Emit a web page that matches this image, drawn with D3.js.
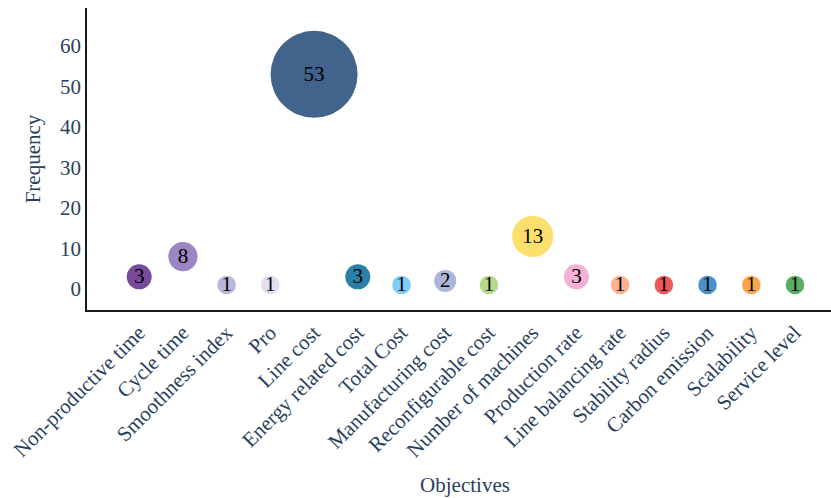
<!DOCTYPE html>
<html>
<head>
<meta charset="utf-8">
<script src="https://cdn.jsdelivr.net/npm/d3@7"></script>
<style>
  html, body { margin: 0; padding: 0; background: #fff; }
  svg { display: block; }
  text { font-family: "Liberation Serif", "Times New Roman", serif; }
</style>
</head>
<body>
<svg id="chart" width="831" height="498"></svg>
<script>
// ---- data ----
const categories = [
  "Non-productive time", "Cycle time", "Smoothness index", "Pro", "Line cost",
  "Energy related cost", "Total Cost", "Manufacturing cost", "Reconfigurable cost",
  "Number of machines", "Production rate", "Line balancing rate", "Stability radius",
  "Carbon emission", "Scalability", "Service level"
];
const frequencies = [3, 8, 1, 1, 53, 3, 1, 2, 1, 13, 3, 1, 1, 1, 1, 1];
const colors = [
  "#774a9c", "#9b85c2", "#bbb5da", "#e1def0", "#41638c",
  "#2b80a7", "#80ccf6", "#abb6d9", "#b6da8c",
  "#fde06b", "#f3b1d5", "#fcb28f", "#eb5959",
  "#4a91c7", "#fda54d", "#5bad61"
];
const yTicks = [0, 10, 20, 30, 40, 50, 60];
const sizeStops = [1, 2, 3, 8, 13, 53];        // value stops for bubble size
const radiusStops = [9.3, 11, 12.5, 14.6, 20.6, 43.5]; // radius at those stops

// ---- layout ----
const svg = d3.select("#chart");
const axisColor = "#2a3f5f";
const plotLeft = 86, plotRight = 831, plotTop = 8, plotBottom = 311;

const x = d3.scaleLinear().domain([0, categories.length - 1]).range([139.2, 795]);
const y = d3.scaleLinear().domain([0, 60]).range([289, 46]);
const r = d3.scaleLinear().domain(sizeStops).range(radiusStops);

// axis lines
svg.append("line")
  .attr("x1", plotLeft).attr("x2", plotLeft).attr("y1", plotTop).attr("y2", plotBottom)
  .attr("stroke", "#1a1a1a").attr("stroke-width", 2);
svg.append("line")
  .attr("x1", plotLeft - 1).attr("x2", plotRight).attr("y1", plotBottom).attr("y2", plotBottom)
  .attr("stroke", "#1a1a1a").attr("stroke-width", 2);

// y ticks
svg.append("g").selectAll("text").data(yTicks).join("text")
  .attr("x", plotLeft - 5).attr("y", d => y(d))
  .attr("dy", "0.35em")
  .attr("text-anchor", "end")
  .attr("font-size", 21)
  .attr("fill", axisColor)
  .text(d => d);

// x tick labels (rotated)
svg.append("g").selectAll("text").data(categories).join("text")
  .attr("transform", (d, i) => `translate(${x(i) + 2},${plotBottom + 18}) rotate(-45)`)
  .attr("text-anchor", "end")
  .attr("dy", "0.35em")
  .attr("font-size", 21)
  .attr("fill", axisColor)
  .text(d => d);

// axis titles
svg.append("text")
  .attr("x", 465).attr("y", 485)
  .attr("dy", "0.35em")
  .attr("text-anchor", "middle")
  .attr("font-size", 21)
  .attr("fill", axisColor)
  .text("Objectives");
svg.append("text")
  .attr("transform", `translate(33,159) rotate(-90)`)
  .attr("dy", "0.35em")
  .attr("text-anchor", "middle")
  .attr("font-size", 21)
  .attr("fill", axisColor)
  .text("Frequency");

// bubbles
const g = svg.append("g");
g.selectAll("circle").data(frequencies).join("circle")
  .attr("cx", (d, i) => x(i))
  .attr("cy", d => y(d))
  .attr("r", d => r(d))
  .attr("fill", (d, i) => colors[i]);
g.selectAll("text").data(frequencies).join("text")
  .attr("x", (d, i) => x(i))
  .attr("y", d => y(d))
  .attr("dy", "0.3em")
  .attr("text-anchor", "middle")
  .attr("font-size", 21)
  .attr("fill", "#000")
  .text(d => d);
</script>
</body>
</html>
